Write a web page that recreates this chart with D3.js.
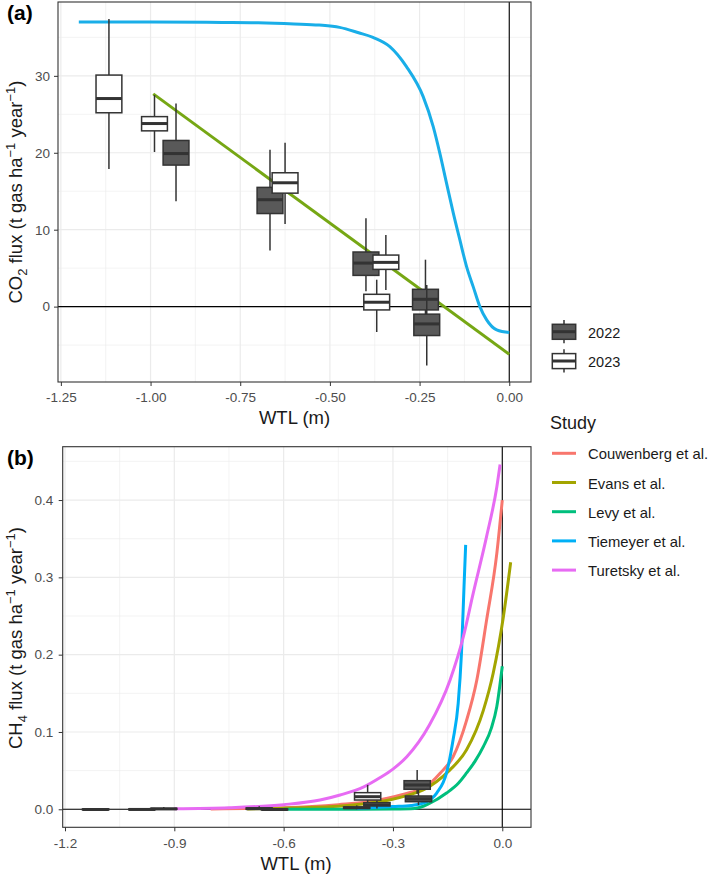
<!DOCTYPE html>
<html><head><meta charset="utf-8">
<script src="https://cdn.jsdelivr.net/npm/d3@7"></script>
<style>body{margin:0;background:#fff}svg{display:block;font-family:"Liberation Sans",Arial,sans-serif}</style>
</head><body><svg id="chart" width="709" height="875"></svg>
<script>
// ---------------- DATA ----------------
// Box plots (shared positions for both panels)
const boxWTL  = [-1.116, -0.989, -0.929, -0.667, -0.625, -0.3995, -0.3695, -0.344, -0.2336, -0.230];
const boxYear = ["2023", "2023", "2022", "2022", "2023", "2022", "2023", "2023", "2022", "2022"];
// Panel (a) CO2 flux box stats
const co2Lower  = [17.9, 20.1, 13.7, 7.3, 10.75, 2.0, -3.3, 2.15, -1.5, -7.66];
const co2Q1     = [25.2, 22.85, 18.4, 12.1, 14.75, 4.06, -0.43, 4.84, -0.43, -3.76];
const co2Median = [27.05, 23.8, 19.9, 13.9, 16.1, 5.66, 0.57, 5.75, 0.95, -2.25];
const co2Q3     = [30.1, 24.7, 21.6, 15.5, 17.4, 7.1, 1.6, 6.7, 2.25, -0.98];
const co2Upper  = [37.4, 27.5, 26.4, 20.4, 21.3, 11.5, 3.5, 9.3, 6.1, 2.8];
// Panel (b) CH4 flux box stats
const ch4Lower  = [-0.001, -0.001, -0.0005, -0.0005, -0.0012, 0.0, 0.0056, 0.001, 0.020, 0.0056];
const ch4Q1     = [-0.0008, -0.0007, 0.0, 0.0, -0.0008, 0.0012, 0.012, 0.0043, 0.0259, 0.0098];
const ch4Median = [-0.0003, -0.0002, 0.0005, 0.0008, -0.0003, 0.002, 0.0163, 0.006, 0.0314, 0.0135];
const ch4Q3     = [0.0005, 0.0004, 0.0012, 0.0017, 0.0003, 0.003, 0.0215, 0.0085, 0.037, 0.0172];
const ch4Upper  = [0.001, 0.0012, 0.003, 0.004, 0.001, 0.005, 0.0316, 0.011, 0.0508, 0.025];

const years = ["2022", "2023"];

// Panel (a) curves
const sigmoidWTL = [-1.2, -1.0, -0.8, -0.7, -0.6, -0.53, -0.473, -0.42, -0.38, -0.333, -0.2866, -0.24, -0.212, -0.1936, -0.1749, -0.156, -0.1377, -0.119, -0.1006, -0.082, -0.063, -0.035, 0.0];
const sigmoidCO2 = [37.0, 37.0, 36.95, 36.9, 36.75, 36.6, 36.3, 35.6, 35.0, 33.8, 31.2, 27.3, 23.4, 19.95, 16.05, 12.15, 8.67, 5.2, 2.6, 0.0, -1.73, -3.03, -3.38];
const linearWTL = [-0.9925, 0.0];
const linearCO2 = [27.66, -6.19];

// Panel (b) study curves
const studies = ["Couwenberg et al.", "Evans et al.", "Levy et al.", "Tiemeyer et al.", "Turetsky et al."];
const couwenbergWTL = [-0.8, -0.6, -0.45, -0.35, -0.3, -0.25, -0.21, -0.17, -0.135, -0.098, -0.07, -0.043, -0.015, 0.0];
const couwenbergCH4 = [0.0005, 0.002, 0.006, 0.011, 0.016, 0.022, 0.029, 0.047, 0.068, 0.115, 0.167, 0.245, 0.331, 0.400];
const evansWTL = [-0.7, -0.55, -0.45, -0.39, -0.31, -0.26, -0.217, -0.18, -0.1435, -0.098, -0.052, -0.025, 0.003, 0.023];
const evansCH4 = [0.0005, 0.002, 0.004, 0.0065, 0.012, 0.018, 0.025, 0.036, 0.051, 0.077, 0.128, 0.176, 0.249, 0.3195];
const levyWTL = [-0.6, -0.4, -0.3, -0.24, -0.2, -0.153, -0.12, -0.098, -0.075, -0.052, -0.03, -0.015, 0.0];
const levyCH4 = [0.0, 0.0, 0.0003, 0.001, 0.0075, 0.021, 0.034, 0.047, 0.062, 0.081, 0.105, 0.133, 0.185];
const tiemeyerWTL = [-0.4, -0.3, -0.25, -0.217, -0.18, -0.153, -0.135, -0.121, -0.112, -0.105, -0.1005];
const tiemeyerCH4 = [0.001, 0.0035, 0.005, 0.008, 0.021, 0.047, 0.09, 0.137, 0.202, 0.288, 0.342];
const turetskyWTL = [-0.9, -0.75, -0.6, -0.5, -0.445, -0.38, -0.335, -0.3, -0.262, -0.2, -0.1435, -0.107, -0.08, -0.043, -0.015, -0.006];
const turetskyCH4 = [0.0007, 0.002, 0.006, 0.012, 0.0185, 0.029, 0.041, 0.052, 0.068, 0.109, 0.167, 0.223, 0.279, 0.353, 0.417, 0.446];

// Tick values
const aXTicks = [-1.25, -1.00, -0.75, -0.50, -0.25, 0.00];
const aYTicks = [0, 10, 20, 30];
const bXTicks = [-1.2, -0.9, -0.6, -0.3, 0.0];
const bYTicks = [0.0, 0.1, 0.2, 0.3, 0.4];

// ---------------- STYLE ----------------
const yearFill = {"2022": "#595959", "2023": "#FFFFFF"};
const studyColor = {"Couwenberg et al.": "#F8766D", "Evans et al.": "#A3A500", "Levy et al.": "#00BF7D", "Tiemeyer et al.": "#00B0F6", "Turetsky et al.": "#E76BF3"};
const boxW = 0.072;
const outline = "#333333";

const svg = d3.select("#chart");
svg.append("rect").attr("width", 709).attr("height", 875).attr("fill", "#fff");

function midpoints(t, dom) {
  const step = t[1] - t[0];
  const out = [];
  for (let v = t[0] - step / 2; v <= dom[1] + 1e-9; v += step) {
    if (v >= dom[0] && !t.some(k => Math.abs(k - v) < 1e-9)) out.push(v);
  }
  return out;
}

function panel(x, y, xt, yt, fx, fy, xPad, yPad) {
  const g = svg.append("g");
  const [x0, x1] = x.range(), [y0, y1] = y.range();
  g.selectAll(null).data(midpoints(xt, x.domain())).enter().append("line")
    .attr("x1", d => x(d)).attr("x2", d => x(d)).attr("y1", y0).attr("y2", y1)
    .attr("stroke", "#EBEBEB").attr("stroke-width", 0.6);
  g.selectAll(null).data(midpoints(yt, y.domain())).enter().append("line")
    .attr("y1", d => y(d)).attr("y2", d => y(d)).attr("x1", x0).attr("x2", x1)
    .attr("stroke", "#EBEBEB").attr("stroke-width", 0.6);
  g.selectAll(null).data(xt).enter().append("line")
    .attr("x1", d => x(d)).attr("x2", d => x(d)).attr("y1", y0).attr("y2", y1)
    .attr("stroke", "#EBEBEB").attr("stroke-width", 1.2);
  g.selectAll(null).data(yt).enter().append("line")
    .attr("y1", d => y(d)).attr("y2", d => y(d)).attr("x1", x0).attr("x2", x1)
    .attr("stroke", "#EBEBEB").attr("stroke-width", 1.2);
  g.append("line").attr("x1", x0).attr("x2", x1).attr("y1", y(0)).attr("y2", y(0))
    .attr("stroke", "#000").attr("stroke-width", 1.1);
  g.append("line").attr("x1", x(0)).attr("x2", x(0)).attr("y1", y0).attr("y2", y1)
    .attr("stroke", "#000").attr("stroke-width", 1.1);
  const ax = svg.append("g").attr("transform", `translate(0,${y0})`)
    .call(d3.axisBottom(x).tickValues(xt).tickFormat(fx).tickSize(4).tickPadding(xPad));
  const ay = svg.append("g").attr("transform", `translate(${x0},0)`)
    .call(d3.axisLeft(y).tickValues(yt).tickFormat(fy).tickSize(4).tickPadding(yPad));
  [ax, ay].forEach(a => {
    a.select(".domain").remove();
    a.selectAll(".tick line").attr("stroke", outline).attr("stroke-width", 1);
    a.selectAll(".tick text").attr("fill", "#4D4D4D").style("font-size", "13.5px")
      .style("font-family", '"Liberation Sans", Arial, sans-serif');
  });
  return g;
}

function drawBoxes(layer, x, y, lo, q1, med, q3, hi) {
  const idx = d3.range(boxWTL.length).sort((a, b) => years.indexOf(boxYear[a]) - years.indexOf(boxYear[b]) || a - b);
  idx.forEach(i => {
    const cx = x(boxWTL[i]);
    const xl = x(boxWTL[i] - boxW / 2), xr = x(boxWTL[i] + boxW / 2);
    const g = layer.append("g");
    g.append("line").attr("x1", cx).attr("x2", cx).attr("y1", y(hi[i])).attr("y2", y(q3[i]))
      .attr("stroke", outline).attr("stroke-width", 1.5);
    g.append("line").attr("x1", cx).attr("x2", cx).attr("y1", y(q1[i])).attr("y2", y(lo[i]))
      .attr("stroke", outline).attr("stroke-width", 1.5);
    g.append("rect").attr("x", xl).attr("width", xr - xl)
      .attr("y", y(q3[i])).attr("height", Math.max(0.5, y(q1[i]) - y(q3[i])))
      .attr("fill", yearFill[boxYear[i]]).attr("stroke", outline).attr("stroke-width", 1.5);
    g.append("line").attr("x1", xl).attr("x2", xr).attr("y1", y(med[i])).attr("y2", y(med[i]))
      .attr("stroke", outline).attr("stroke-width", 3);
  });
}

function yLabel(cx, cy, parts) {
  const t = svg.append("text").attr("transform", `translate(${cx},${cy}) rotate(-90)`)
    .attr("text-anchor", "middle").attr("fill", "#1A1A1A").style("font-size", "18.5px");
  let shift = 0;
  parts.forEach(p => {
    const dy = (p.s === "sub" ? 5 : p.s === "sup" ? -7 : 0);
    t.append("tspan").attr("dy", dy - shift).style("font-size", p.s ? "13px" : "18.5px").text(p.t);
    shift = dy;
  });
}

// ---------------- PANEL A ----------------
const xA = d3.scaleLinear().domain([-1.258, 0.0606]).range([58, 531]);
const yA = d3.scaleLinear().domain([-9.8, 39.6]).range([382, 2]);
panel(xA, yA, aXTicks, aYTicks, d => d.toFixed(2), d => d3.format("d")(d), 6, 4);

svg.append("path").datum(sigmoidWTL.map((v, i) => [v, sigmoidCO2[i]]))
  .attr("d", d3.line().x(d => xA(d[0])).y(d => yA(d[1])).curve(d3.curveMonotoneX))
  .attr("fill", "none").attr("stroke", "#19AEE8").attr("stroke-width", 3);
svg.append("path").datum(linearWTL.map((v, i) => [v, linearCO2[i]]))
  .attr("d", d3.line().x(d => xA(d[0])).y(d => yA(d[1])))
  .attr("fill", "none").attr("stroke", "#76A714").attr("stroke-width", 3);
drawBoxes(svg.append("g"), xA, yA, co2Lower, co2Q1, co2Median, co2Q3, co2Upper);
svg.append("rect").attr("x", 58).attr("y", 2).attr("width", 531 - 58).attr("height", 380)
  .attr("fill", "none").attr("stroke", outline).attr("stroke-width", 1.1);

// ---------------- PANEL B ----------------
const xB = d3.scaleLinear().domain([-1.2063, 0.0788]).range([62.7, 531]);
const yB = d3.scaleLinear().domain([-0.0233, 0.469]).range([827.3, 446.7]);
panel(xB, yB, bXTicks, bYTicks, d => d.toFixed(1), d => d.toFixed(1), 7, 5.5);

const studyData = [
  [couwenbergWTL, couwenbergCH4], [evansWTL, evansCH4], [levyWTL, levyCH4],
  [tiemeyerWTL, tiemeyerCH4], [turetskyWTL, turetskyCH4]
];
const lineB = d3.line().x(d => xB(d[0])).y(d => yB(d[1])).curve(d3.curveMonotoneX);
studyData.forEach((s, k) => {
  svg.append("path").datum(s[0].map((v, i) => [v, s[1][i]]))
    .attr("d", lineB).attr("fill", "none").attr("stroke", studyColor[studies[k]]).attr("stroke-width", 3);
});
drawBoxes(svg.append("g"), xB, yB, ch4Lower, ch4Q1, ch4Median, ch4Q3, ch4Upper);
svg.append("rect").attr("x", 62.7).attr("y", 446.7).attr("width", 531 - 62.7).attr("height", 827.3 - 446.7)
  .attr("fill", "none").attr("stroke", outline).attr("stroke-width", 1.1);

// ---------------- LABELS ----------------
svg.append("text").attr("x", 7).attr("y", 20).style("font-size", "21px").style("font-weight", "bold").text("(a)");
svg.append("text").attr("x", 7).attr("y", 465).style("font-size", "21px").style("font-weight", "bold").text("(b)");

svg.append("text").attr("x", 294.5).attr("y", 424).attr("text-anchor", "middle").attr("fill", "#1A1A1A")
  .style("font-size", "18.5px").text("WTL (m)");
svg.append("text").attr("x", 296).attr("y", 870).attr("text-anchor", "middle").attr("fill", "#1A1A1A")
  .style("font-size", "18.5px").text("WTL (m)");

yLabel(22, 192, [{t: "CO"}, {t: "2", s: "sub"}, {t: " flux (t gas ha"}, {t: "\u22121", s: "sup"}, {t: " year"}, {t: "\u22121", s: "sup"}, {t: ")"}]);
yLabel(22, 638, [{t: "CH"}, {t: "4", s: "sub"}, {t: " flux (t gas ha"}, {t: "\u22121", s: "sup"}, {t: " year"}, {t: "\u22121", s: "sup"}, {t: ")"}]);

// Legend (a): years
const legA = svg.append("g");
years.forEach((yr, k) => {
  const top = 320 + k * 29.3;
  const cx = 564;
  legA.append("line").attr("x1", cx).attr("x2", cx).attr("y1", top).attr("y2", top + 23.3)
    .attr("stroke", outline).attr("stroke-width", 1.5);
  legA.append("rect").attr("x", 552.3).attr("width", 23.4).attr("y", top + 4.3).attr("height", 15)
    .attr("fill", yearFill[yr]).attr("stroke", outline).attr("stroke-width", 1.5);
  legA.append("line").attr("x1", 552.3).attr("x2", 575.7).attr("y1", top + 11.7).attr("y2", top + 11.7)
    .attr("stroke", outline).attr("stroke-width", 3);
  legA.append("text").attr("x", 588).attr("y", top + 18).attr("fill", "#1A1A1A").style("font-size", "14.5px").text(yr);
});

// Legend (b): studies
const legB = svg.append("g");
legB.append("text").attr("x", 550).attr("y", 429).attr("fill", "#1A1A1A").style("font-size", "18px").text("Study");
studies.forEach((s, k) => {
  const yy = 453.3 + k * 29.2;
  legB.append("line").attr("x1", 552).attr("x2", 576).attr("y1", yy).attr("y2", yy)
    .attr("stroke", studyColor[s]).attr("stroke-width", 3);
  legB.append("text").attr("x", 588).attr("y", yy + 6).attr("fill", "#1A1A1A").style("font-size", "14.8px").text(s);
});
</script></body></html>
